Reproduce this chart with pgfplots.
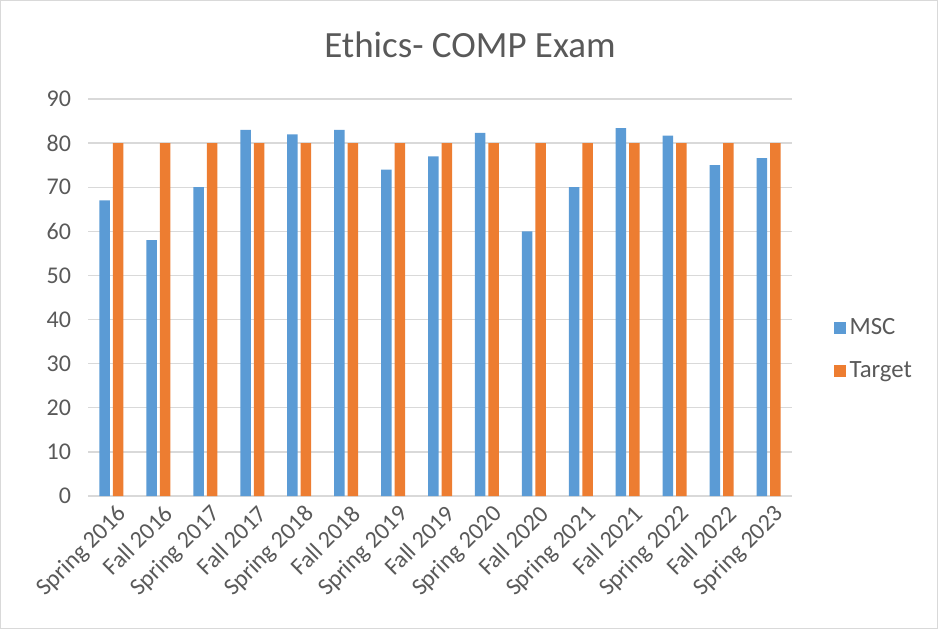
\documentclass[border=0pt]{standalone}
\usepackage{fontspec}
\setmainfont{Carlito}
\usepackage{pgfplots}
\pgfplotsset{compat=1.18}
\definecolor{msc}{HTML}{5B9BD5}
\definecolor{tgt}{HTML}{ED7D31}
\definecolor{gridc}{HTML}{D9D9D9}
\definecolor{txt}{HTML}{595959}
\begin{document}
\begin{tikzpicture}
\useasboundingbox (0,0) rectangle (469pt,314.5pt);
\draw[gridc, line width=0.6pt] (0.3pt,0.3pt) rectangle (468.7pt,314.2pt);
\begin{axis}[
  at={(44pt,66.5pt)}, anchor=south west,
  scale only axis, width=352pt, height=198.5pt,
  ybar=1.5pt, bar width=5.25pt,
  xmin=-0.5, xmax=14.5, ymin=0, ymax=90,
  ytick={0,10,...,90},
  xtick={0,...,14},
  xticklabels={Spring 2016,Fall 2016,Spring 2017,Fall 2017,Spring 2018,Fall 2018,Spring 2019,Fall 2019,Spring 2020,Fall 2020,Spring 2021,Fall 2021,Spring 2022,Fall 2022,Spring 2023},
  major tick length=0pt,
  axis line style={draw=none},
  ymajorgrids, major grid style={gridc, line width=0.7pt},
  /pgf/number format/assume math mode=true,
  tick label style={font=\fontsize{12}{14}\selectfont, text=txt},
  yticklabel style={xshift=-5pt},
  xticklabel style={rotate=45, anchor=north east, inner sep=1pt, yshift=-3pt},
  legend style={at={(1.05,0.37)}, anchor=west, draw=none, fill=none,
    font=\fontsize{12.4}{14}\selectfont, text=txt, row sep=8pt},
  legend cell align=left,
  legend image code/.code={\fill[#1] (0pt,-3pt) rectangle (6pt,3pt);},
]
\addplot[fill=msc, draw=none] coordinates {(0,67) (1,58) (2,70) (3,83) (4,82) (5,83) (6,74) (7,77) (8,82.3) (9,60) (10,70) (11,83.4) (12,81.7) (13,75) (14,76.6)};
\addplot[fill=tgt, draw=none] coordinates {(0,80) (1,80) (2,80) (3,80) (4,80) (5,80) (6,80) (7,80) (8,80) (9,80) (10,80) (11,80) (12,80) (13,80) (14,80)};
\legend{MSC,Target}
\end{axis}
\node[text=txt, font=\fontsize{18.5}{22}\selectfont] at (235pt,292pt) {Ethics- COMP Exam};
\end{tikzpicture}
\end{document}
